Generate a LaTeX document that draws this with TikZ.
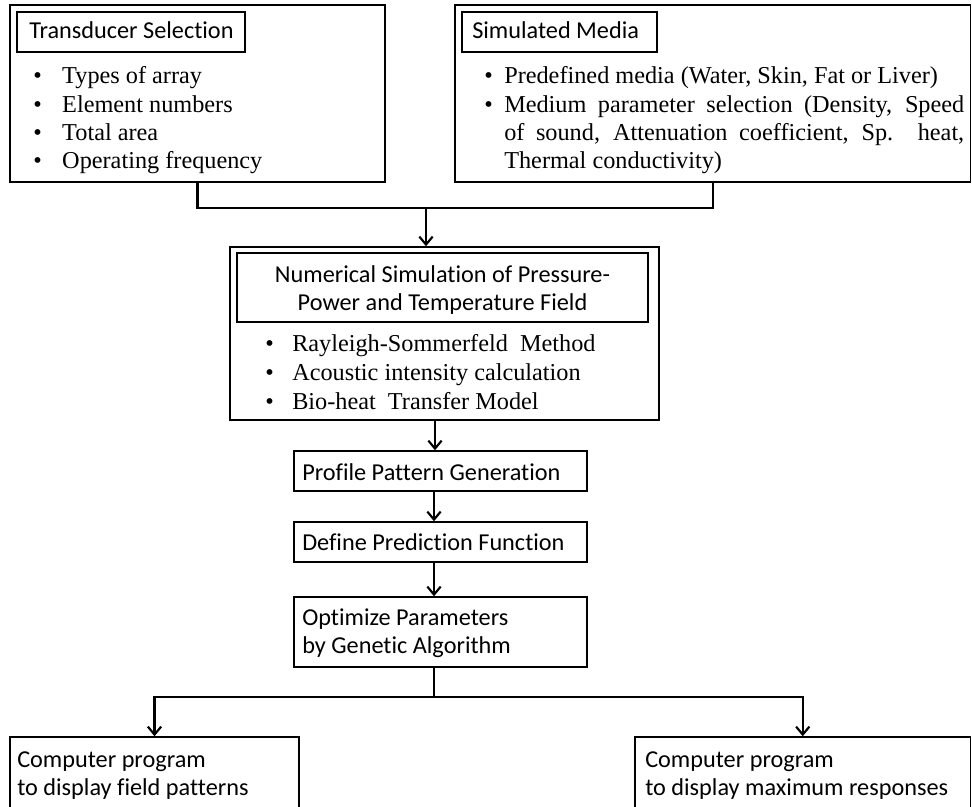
\documentclass[tikz,border=0pt]{standalone}
\usepackage{fontspec}
\setmainfont{Liberation Serif}
\newfontfamily\calfont[Ligatures={NoCommon}]{Carlito}
\usetikzlibrary{arrows.meta,fit}
\begin{document}
\begin{tikzpicture}[x=0.75pt,y=-0.75pt,
  box/.style={draw, line width=1.1pt, inner sep=0pt},
  ttl/.style={font=\calfont\fontsize{18.2pt}{21pt}\selectfont, inner sep=0pt, anchor=base west},
  ctl/.style={font=\calfont\fontsize{18.2pt}{21pt}\selectfont, inner sep=0pt, anchor=base},
  bul/.style={font=\fontsize{18.2pt}{21pt}\selectfont, inner sep=0pt, anchor=base west},
  conn/.style={line width=1.6pt},
  arr/.style={conn, -{Straight Barb[length=6pt,width=10pt]}}]
\useasboundingbox (0,0) rectangle (972,807);
\fill[white] (0,0) rectangle (972,807);

% Transducer Selection
\node[box, fit={(10,5) (385,182)}] (b1) {};
\node[box, fit={(17,12) (245,52)}] (t1) {};
\node[ttl] (t1x) at (29,38) {Transducer Selection};
\node[bul] (b1a) at (33,83) {\makebox[21.75pt][l]{•}Types of array};
\node[bul] (b1b) at (33,112) {\makebox[21.75pt][l]{•}Element numbers};
\node[bul] (b1c) at (33,140) {\makebox[21.75pt][l]{•}Total area};
\node[bul] (b1d) at (33,168) {\makebox[21.75pt][l]{•}Operating frequency};

% Simulated Media
\node[box, fit={(455,5) (970.5,182)}] (b2) {};
\node[box, fit={(462,12) (657,52)}] (t2) {};
\node[ttl] (t2x) at (472,38) {Simulated Media};
\node[bul] (b2a) at (484,83) {\makebox[15pt][l]{•}Predefined media (Water, Skin, Fat or Liver)};
\node[bul] (b2b) at (484,112) {\makebox[15pt][l]{•}\makebox[345pt][s]{Medium parameter selection (Density, Speed}};
\node[bul] (b2c) at (504,140) {\makebox[345pt][s]{of sound, Attenuation coefficient, Sp. heat,}};
\node[bul] (b2d) at (504,168) {Thermal conductivity)};

% Numerical simulation
\node[box, fit={(230,247) (659,420)}] (b3) {};
\node[box, fit={(237,253) (648,322)}] (t3) {};
\node[ctl] (t3a) at (442.5,282) {Numerical Simulation of Pressure-};
\node[ctl] (t3b) at (442.5,310) {Power and Temperature Field};
\node[bul] (b3a) at (265,351) {\makebox[20.25pt][l]{•}Rayleigh-Sommerfeld\ \ Method};
\node[bul] (b3b) at (265,380) {\makebox[20.25pt][l]{•}Acoustic intensity calculation};
\node[bul] (b3c) at (265,409) {\makebox[20.25pt][l]{•}Bio-heat\ \ Transfer Model};

% chain
\node[box, fit={(294,451) (587,491)}] (b4) {};
\node[ttl] (b4x) at (302,480) {Profile Pattern Generation};
\node[box, fit={(294,522) (587,562)}] (b5) {};
\node[ttl] (b5x) at (302,550) {Define Prediction Function};
\node[box, fit={(294,597) (587,667)}] (b6) {};
\node[ttl] (b6a) at (302,625) {Optimize Parameters};
\node[ttl] (b6b) at (302,653) {by Genetic Algorithm};

% outputs
\node[box, fit={(10,737) (299,815)}] (b7) {};
\node[ttl] (b7a) at (17,767) {Computer program};
\node[ttl] (b7b) at (17,795) {to display field patterns};
\node[box, fit={(635,737) (970.5,815)}] (b8) {};
\node[ttl] (b8a) at (645,767) {Computer program};
\node[ttl] (b8b) at (645,795) {to display maximum responses};

% connectors
\coordinate (j1) at (426,208);
\coordinate (ax) at (434,0);
\coordinate (ay) at (435,0);
\coordinate (j2) at (434,697);
\draw[conn] (b1.south) |- (j1) -| (b2.south);
\draw[arr] (j1) -- (j1 |- b3.north);
\draw[arr] (b3.south -| ay) -- (b4.north -| ay);
\draw[arr] (b4.south -| ax) -- (b5.north -| ax);
\draw[arr] (b5.south -| ax) -- (b6.north -| ax);
\draw[conn] (b6.south -| ax) -- (j2);
\draw[arr] (j2) -| (b7.north);
\draw[arr] (j2) -| (b8.north);
\end{tikzpicture}
\end{document}
